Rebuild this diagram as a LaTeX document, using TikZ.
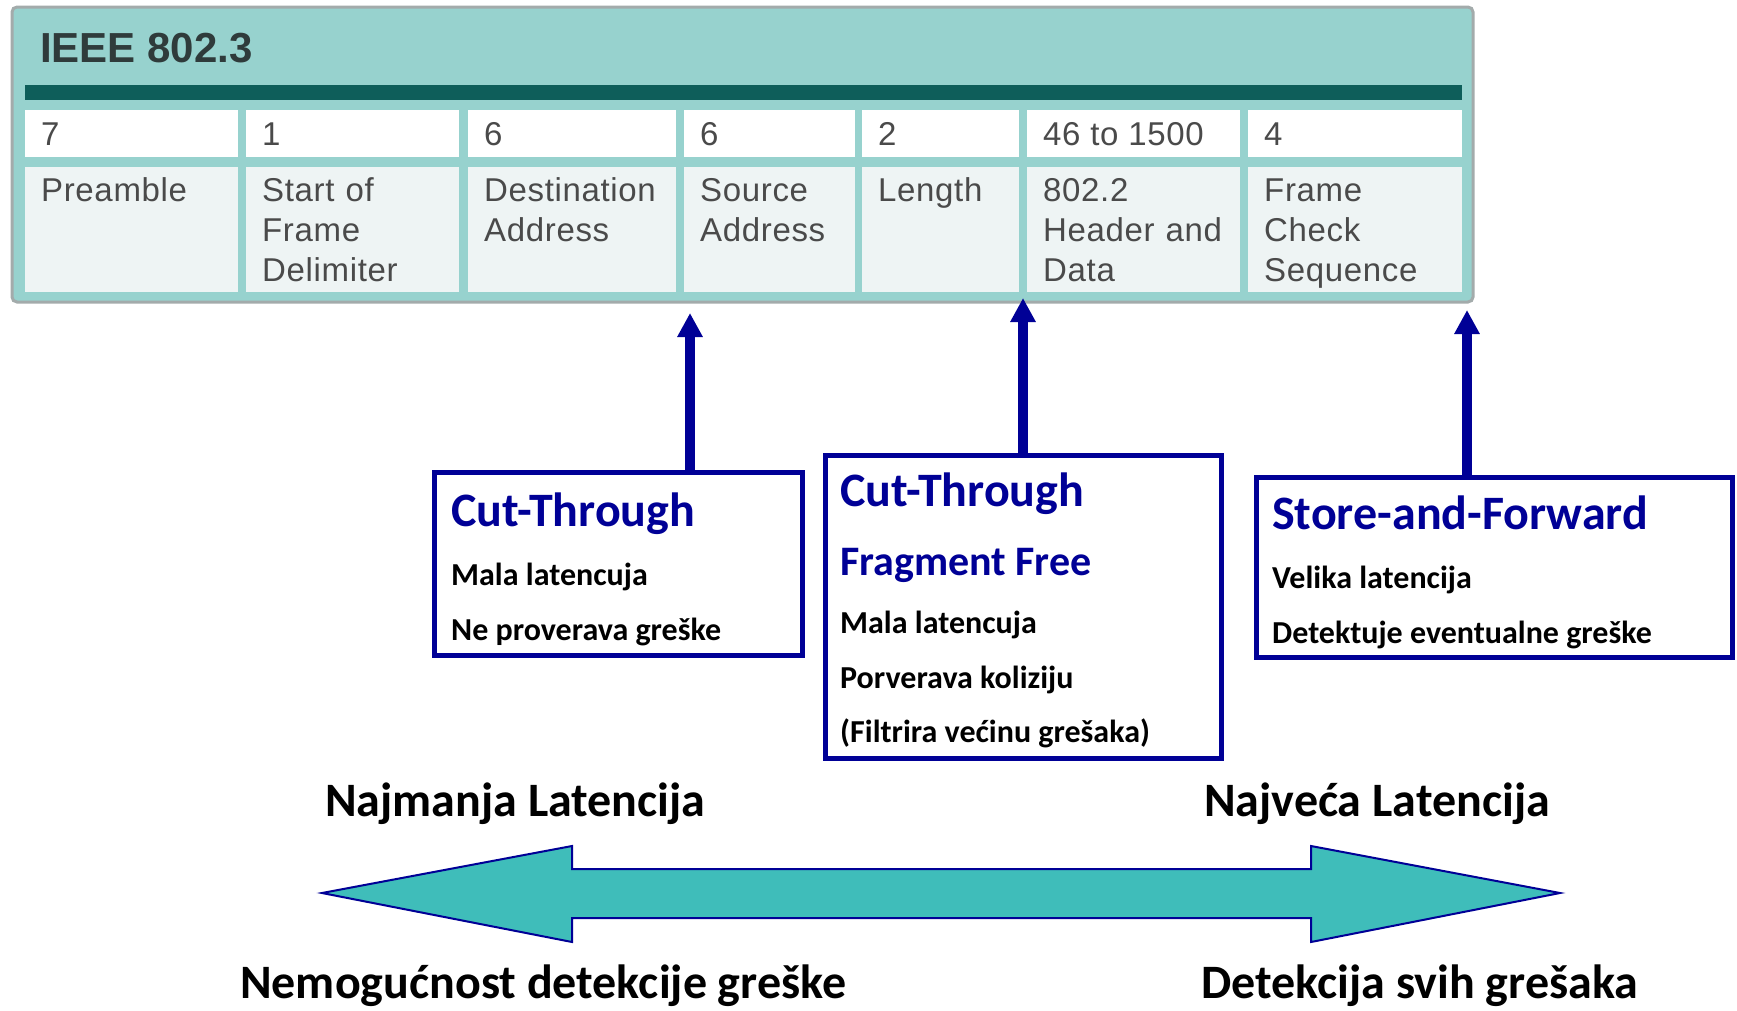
\documentclass[tikz,border=0pt]{standalone}
\usepackage{fontspec}
\setmainfont{Carlito}
\newfontfamily\arialf[LetterSpace=2]{Liberation Sans}
\newfontfamily\arialt{Liberation Sans}
\usetikzlibrary{arrows.meta}
\definecolor{tealL}{HTML}{97D2CE}
\definecolor{tealD}{HTML}{0E5E5A}
\definecolor{rowgray}{HTML}{EEF4F4}
\definecolor{edgegray}{HTML}{A3ABAB}
\definecolor{tabtext}{HTML}{4A4A4A}
\definecolor{titletext}{HTML}{2F3B3B}
\definecolor{navy}{HTML}{000096}
\definecolor{arrfill}{HTML}{3FBDBA}
\begin{document}
\begin{tikzpicture}[x=1pt,y=-1pt,
  cellnum/.style={anchor=base west,inner sep=0pt,text=tabtext,font=\arialf\fontsize{33}{40}\selectfont},
  celllab/.style={anchor=base west,inner sep=0pt,text=tabtext,text width=200pt,align=left,font=\arialf\fontsize{33}{40}\selectfont},
  sbox/.style={draw=navy,line width=5pt,fill=white,inner sep=0pt,outer sep=0pt},
  btitle/.style={anchor=base west,inner sep=0pt,text=navy,font=\bfseries\fontsize{48}{56}\selectfont},
  bsub/.style={anchor=base west,inner sep=0pt,text=navy,font=\bfseries\fontsize{42}{50}\selectfont},
  btext/.style={anchor=base west,inner sep=0pt,text=black,font=\bfseries\fontsize{32}{38}\selectfont},
  bigtext/.style={anchor=base west,inner sep=0pt,text=black,font=\bfseries\fontsize{48}{56}\selectfont},
  uparrow/.style={draw=navy,line width=10pt,-{Triangle[length=24pt,width=24pt]}}
]
\useasboundingbox (0,0) rectangle (1737,1010);
\fill[white] (0,0) rectangle (1737,1010);

% ---- IEEE 802.3 frame table ----
\draw[draw=edgegray,line width=3pt,fill=tealL,rounded corners=5pt] (12,7) rectangle (1473,302);
\node[anchor=base west,inner sep=0pt,text=titletext,font=\arialt\bfseries\fontsize{42}{50}\selectfont] (ttl) at (40,62) {IEEE 802.3};
\fill[tealD] (25,85) rectangle (1462,100);

\foreach \l/\r/\n [count=\i] in {25/238/7, 246/459/1, 468/676/6, 684/855/6, 862/1019/2, 1027/1240/46 to 1500, 1248/1462/4} {
  \fill[white] (\l,110) rectangle (\r,157);
  \fill[rowgray] (\l,167) rectangle (\r,292);
  \node[cellnum] (num\i) at (\l+16,145) {\n};
}
\node[celllab] (lab1) at (41,201) {Preamble};
\node[celllab] (lab2) at (262,201) {Start of\\Frame\\Delimiter};
\node[celllab] (lab3) at (484,201) {Destination\\Address};
\node[celllab] (lab4) at (700,201) {Source\\Address};
\node[celllab] (lab5) at (878,201) {Length};
\node[celllab] (lab6) at (1043,201) {802.2\\Header and\\Data};
\node[celllab] (lab7) at (1264,201) {Frame\\Check\\Sequence};

% ---- switching method boxes ----
\node[sbox,minimum width=368pt,minimum height=183pt] (b1) at (618.5,564) {};
\node[sbox,minimum width=396pt,minimum height=303pt] (b2) at (1023.5,607) {};
\node[sbox,minimum width=476pt,minimum height=180pt] (b3) at (1494.5,567.5) {};

\node[btitle] (b1t) at (451,526) {Cut-Through};
\node[btext] (b1a) at (451,585) {Mala latencuja};
\node[btext] (b1b) at (451,640) {Ne proverava greške};

\node[btitle] (b2t) at (840,506) {Cut-Through};
\node[bsub] (b2s) at (840,575) {Fragment Free};
\node[btext] (b2a) at (840,633) {Mala latencuja};
\node[btext] (b2b) at (840,688) {Porverava koliziju};
\node[btext] (b2c) at (840,742) {(Filtrira većinu grešaka)};

\node[btitle] (b3t) at (1272,529) {Store-and-Forward};
\node[btext] (b3a) at (1272,588) {Velika latencija};
\node[btext] (b3b) at (1272,643) {Detektuje eventualne greške};

% ---- arrows to the frame fields ----
\coordinate (t1) at (690,313);
\coordinate (t2) at (1023,298);
\coordinate (t3) at (1467,310);
\draw[uparrow] (b1.north -| t1) -- (t1);
\draw[uparrow] (b2.north -| t2) -- (t2);
\draw[uparrow] (b3.north -| t3) -- (t3);

% ---- latency scale ----
\node[bigtext] (lmin) at (325,816) {Najmanja Latencija};
\node[bigtext] (lmax) at (1204,816) {Najveća Latencija};
\draw[draw=navy,line width=2pt,fill=arrfill,line join=miter]
  (322,893) -- (572,846) -- (572,869) -- (1311,869) -- (1311,846) -- (1560,893)
  -- (1311,942) -- (1311,918) -- (572,918) -- (572,942) -- cycle;
\node[bigtext] (dmin) at (240,998) {Nemogućnost detekcije greške};
\node[bigtext] (dmax) at (1201,998) {Detekcija svih grešaka};
\end{tikzpicture}
\end{document}
